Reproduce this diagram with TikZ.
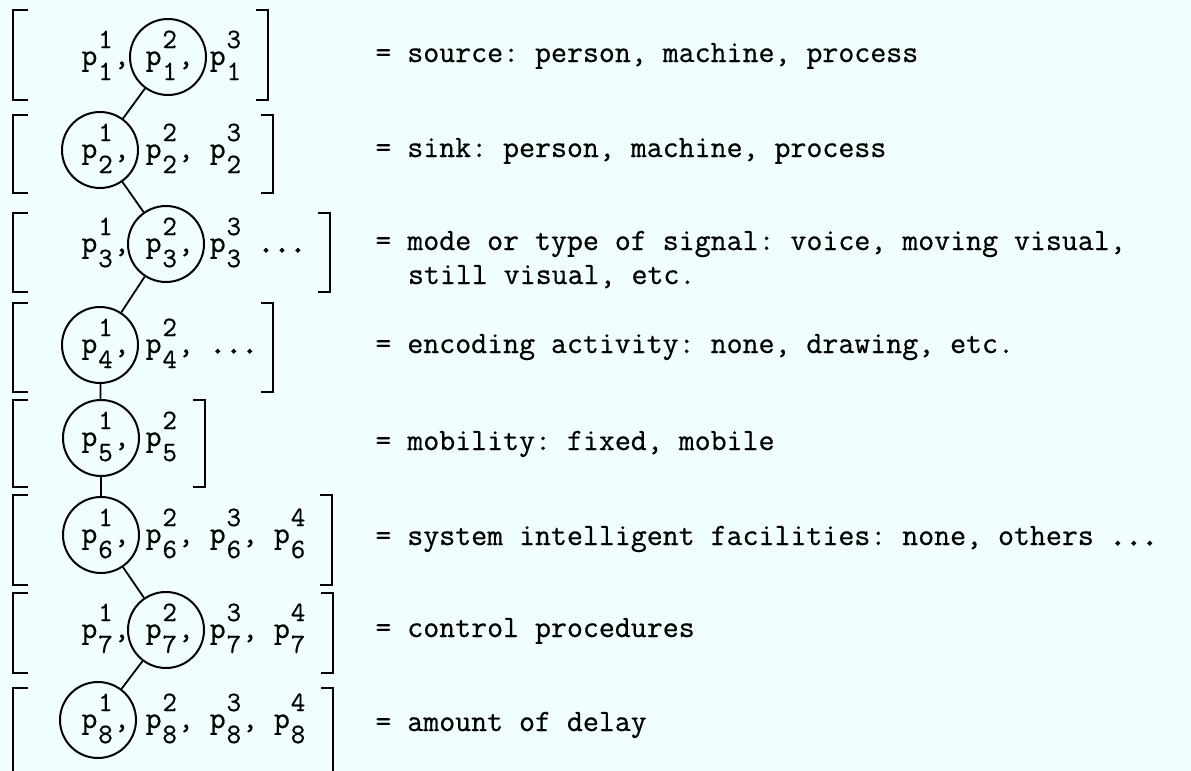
\documentclass[tikz,border=0pt]{standalone}
\usepackage{fontspec}
\usepackage{xcolor}
\usepackage{tikz}
\usetikzlibrary{calc}

\setmonofont{Latin Modern Mono}[FakeBold=0.6]
\newfontfamily\heavytt{Latin Modern Mono}[FakeBold=4]
\definecolor{paper}{HTML}{F0FEFE}
\frenchspacing
% one typed parameter: p with raised and lowered index in one column
\newcommand{\dg}[1]{{\fontsize{14}{16}\selectfont #1}}
\newcommand{\pel}[2]{p\makebox[8.14pt][c]{\rlap{\raisebox{8.5pt}{\dg{#1}}}\raisebox{-7.5pt}{\dg{#2}}}}
\newcommand{\tdots}{{\heavytt ...}}

\begin{document}
\begin{tikzpicture}[x=0.5pt, y=-0.5pt,
    every node/.style={font=\ttfamily\fontsize{15.5}{17}\selectfont, inner sep=0pt},
    prow/.style={anchor=base west},
    desc/.style={anchor=base west},
    sel/.style={draw, circle, line width=1pt, minimum size=38pt},
    brk/.style={line width=1.4pt},
    link/.style={line width=0.9pt}]
    \fill[paper] (0,0) rectangle (1191,771);
    \useasboundingbox (0,0) rectangle (1191,771);

    % brackets: top / bottom / right edge
    \foreach \t/\b/\r in {10/100/268, 115/193/273, 213/292/330, 303/392/273,
                          400/487/205, 495/585/332, 593/673/333, 688/790/333} {
        \draw[brk] (28,\t) -| (13,\b) -- (28,\b);
        \draw[brk] ({\r-12},\t) -| (\r,\b) -- ({\r-12},\b);
    }

    % rows of parameters
    \node[prow] (r1) at (81,65)  {\pel{1}{1}, \pel{2}{1}, \pel{3}{1}};
    \node[prow] (r2) at (81,158) {\pel{1}{2}, \pel{2}{2}, \pel{3}{2}};
    \node[prow] (r3) at (81,252) {\pel{1}{3}, \pel{2}{3}, \pel{3}{3} \tdots};
    \node[prow] (r4) at (81,353) {\pel{1}{4}, \pel{2}{4}, \tdots};
    \node[prow] (r5) at (81,446) {\pel{1}{5}, \pel{2}{5}};
    \node[prow] (r6) at (81,543) {\pel{1}{6}, \pel{2}{6}, \pel{3}{6}, \pel{4}{6}};
    \node[prow] (r7) at (81,638) {\pel{1}{7}, \pel{2}{7}, \pel{3}{7}, \pel{4}{7}};
    \node[prow] (r8) at (81,728) {\pel{1}{8}, \pel{2}{8}, \pel{3}{8}, \pel{4}{8}};

    % chosen values
    \node[sel] (c1) at (168,57)  {};
    \node[sel] (c2) at (100,150) {};
    \node[sel] (c3) at (166,244) {};
    \node[sel] (c4) at (100,345) {};
    \node[sel] (c5) at (101,438) {};
    \node[sel] (c6) at (101,535) {};
    \node[sel] (c7) at (166,630) {};
    \node[sel] (c8) at (98,720)  {};
    \draw[link] (c1) -- (c2);
    \draw[link] (c2) -- (c3);
    \draw[link] (c3) -- (c4);
    \draw[link] (c4) -- (c5);
    \draw[link] (c5) -- (c6);
    \draw[link] (c6) -- (c7);
    \draw[link] (c7) -- (c8);

    % meanings
    \node[desc] (d1) at (375,62)  {= source: person, machine, process};
    \node[desc] (d2) at (375,157) {= sink: person, machine, process};
    \node[desc] (d3) at (375,250) {= mode or type of signal: voice, moving visual,};
    \node[desc] (d3b) at (407.6,284) {still visual, etc.};
    \node[desc] (d4) at (375,353) {= encoding activity: none, drawing, etc.};
    \node[desc] (d5) at (375,450) {= mobility: fixed, mobile};
    \node[desc] (d6) at (375,545) {= system intelligent facilities: none, others \tdots};
    \node[desc] (d7) at (375,637) {= control procedures};
    \node[desc] (d8) at (375,731) {= amount of delay};
\end{tikzpicture}
\end{document}
